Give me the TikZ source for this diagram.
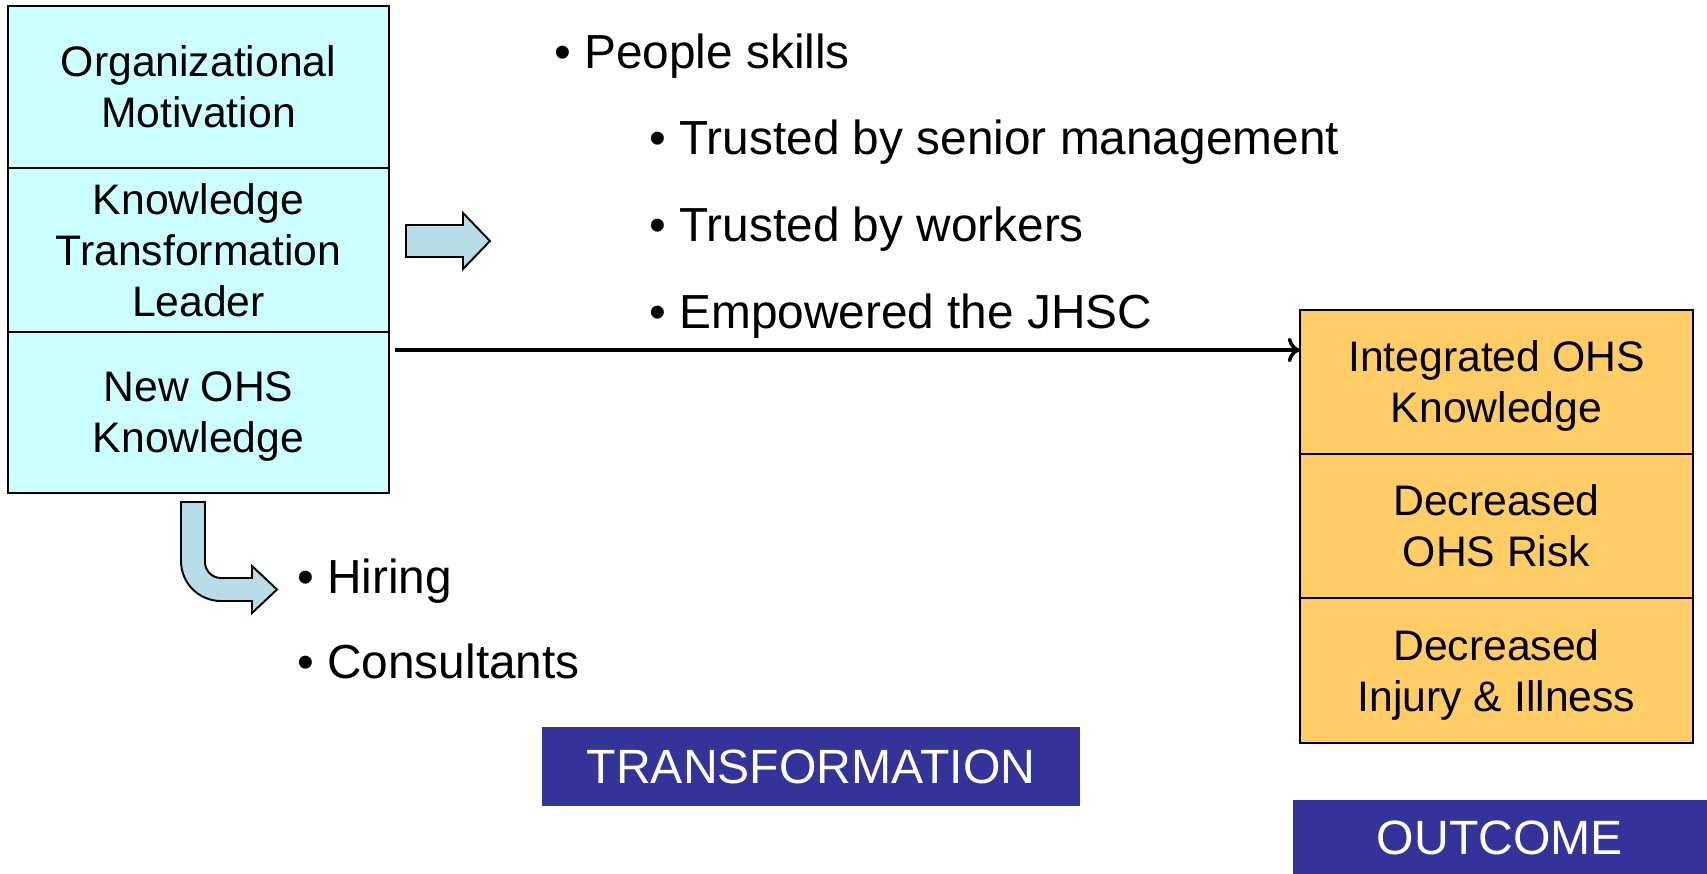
\documentclass[tikz,border=0pt]{standalone}
\usepackage{fontspec}
\setmainfont{Liberation Sans}
\usepackage{xcolor}
\usetikzlibrary{positioning,arrows.meta}
\definecolor{cellcyan}{HTML}{CCFFFF}
\definecolor{cellorange}{HTML}{FFCC66}
\definecolor{labelblue}{HTML}{333399}
\definecolor{blockfill}{HTML}{B7DEE8}
\tikzset{
  cell/.style={draw, line width=1.3pt, outer sep=0pt, align=center, text depth=0pt, font=\fontsize{24.3}{29}\selectfont},
  leftcell/.style={cell, fill=cellcyan, minimum width=7.62cm},
  rightcell/.style={cell, fill=cellorange, minimum width=7.86cm, minimum height=2.88cm},
  bullet/.style={anchor=base west, inner sep=0pt, font=\fontsize{27.2}{33}\selectfont},
  stage/.style={fill=labelblue, text=white, inner sep=0pt, font=\fontsize{27.4}{33}\selectfont},
  blockarrow/.style={draw, fill=blockfill, line width=1.1pt, line join=miter}
}
\begin{document}
\begin{tikzpicture}[x=0.02cm, y=-0.02cm]
\useasboundingbox (0,0) rectangle (1707,874);
% left column
\node[leftcell, minimum height=3.24cm] (org) at (198.5,87) {Organizational\\Motivation};
\node[leftcell, minimum height=3.28cm, below=0pt of org] (ktl) {Knowledge\\Transformation\\Leader};
\node[leftcell, minimum height=3.22cm, below=0pt of ktl] (nohs) {New OHS\\Knowledge};
% right column
\node[rightcell] (ohsk) at (1496.5,382) {Integrated OHS\\Knowledge};
\node[rightcell, below=0pt of ohsk] (risk) {Decreased\\OHS Risk};
\node[rightcell, minimum height=2.9cm, below=0pt of risk] (illness) {Decreased\\Injury \& Illness};
% bullets
\node[bullet] (people) at (554,69) {• People skills};
\node[bullet] (senior) at (649,155) {• Trusted by senior management};
\node[bullet] (workers) at (649,242) {• Trusted by workers};
\node[bullet] (jhsc) at (649,329) {• Empowered the JHSC};
\node[bullet] (hiring) at (297,593) {• Hiring};
\node[bullet] (consult) at (297,678) {• Consultants};
% stage labels
\node[stage, minimum width=10.76cm, minimum height=1.58cm] (transf) at (811,766.5) {TRANSFORMATION};
\node[stage, minimum width=8.28cm, minimum height=1.52cm] (outcome) at (1500,838) {OUTCOME};
% connectors
\coordinate (from) at (395,350);
\draw[line width=2pt, -{To[length=7pt, width=14pt]}] (from) -- (from -| ohsk.west);
\draw[blockarrow] (406,225) -- (463,225) -- (463,213) -- (490,241) -- (463,269) -- (463,257) -- (406,257) -- cycle;
\draw[blockarrow] (181,502) -- (205,502) -- (205,562) to[out=-90, in=180] (221,578) -- (252,578)
  -- (252,566) -- (277,589.5) -- (252,613) -- (252,601) -- (221,601) to[out=180, in=-90] (181,561) -- cycle;
\end{tikzpicture}
\end{document}
